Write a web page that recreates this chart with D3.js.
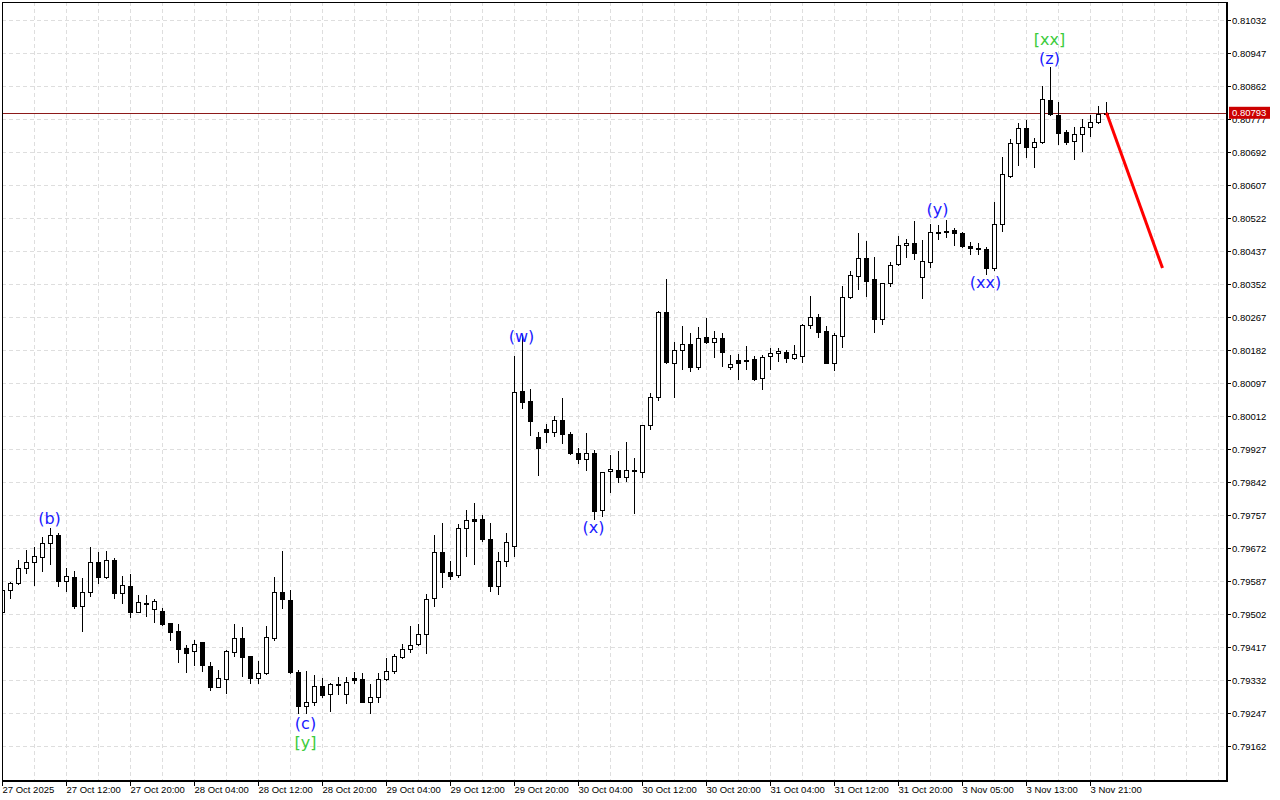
<!DOCTYPE html>
<html>
<head>
<meta charset="utf-8">
<script src="https://cdn.jsdelivr.net/npm/d3@7"></script>
<style>
  body { margin: 0; background: #fff; }
  svg text { font-family: "Liberation Sans", Arial, sans-serif; }
</style>
</head>
<body>
<script>
// hourly bars, two trading sessions (weekend gap between them)
var sessions = [
  { start: "2025-10-27T04:00:00Z", bars: 116 },
  { start: "2025-11-03T01:00:00Z", bars: 23 }
];

var opens = [
  0.79507, 0.79564, 0.79581, 0.79620, 0.79635, 0.79650, 0.79684, 0.79705, 0.79588, 0.79598,
  0.79523, 0.79558, 0.79635, 0.79597, 0.79641, 0.79555, 0.79574, 0.79508, 0.79531, 0.79514,
  0.79510, 0.79478, 0.79458, 0.79414, 0.79407, 0.79429, 0.79369, 0.79315, 0.79334, 0.79405,
  0.79439, 0.79394, 0.79336, 0.79349, 0.79439, 0.79558, 0.79538, 0.79352, 0.79266, 0.79276,
  0.79317, 0.79295, 0.79320, 0.79295, 0.79336, 0.79334, 0.79276, 0.79289, 0.79334, 0.79356,
  0.79392, 0.79412, 0.79424, 0.79450, 0.79542, 0.79662, 0.79611, 0.79602, 0.79723, 0.79746,
  0.79746, 0.79695, 0.79575, 0.79639, 0.79678, 0.80076, 0.80051, 0.79959, 0.79979, 0.79970,
  0.80002, 0.79966, 0.79917, 0.79900, 0.79917, 0.79770, 0.79870, 0.79873, 0.79856, 0.79873,
  0.79867, 0.79989, 0.80062, 0.80281, 0.80148, 0.80181, 0.80197, 0.80139, 0.80215, 0.80202,
  0.80212, 0.80139, 0.80156, 0.80156, 0.80158, 0.80109, 0.80167, 0.80174, 0.80178, 0.80161,
  0.80167, 0.80246, 0.80266, 0.80231, 0.80149, 0.80219, 0.80318, 0.80373, 0.80418, 0.80365,
  0.80261, 0.80354, 0.80403, 0.80452, 0.80457, 0.80369, 0.80408, 0.80487, 0.80489, 0.80491,
  0.80484, 0.80451, 0.80444, 0.80441, 0.80392, 0.80506, 0.80631, 0.80714, 0.80753, 0.80706,
  0.80719, 0.80826, 0.80787, 0.80743, 0.80720, 0.80738, 0.80756, 0.80768, 0.80789
];
var highs = [
  0.79572, 0.79585, 0.79641, 0.79667, 0.79675, 0.79700, 0.79723, 0.79710, 0.79620, 0.79613,
  0.79594, 0.79674, 0.79661, 0.79664, 0.79645, 0.79600, 0.79605, 0.79551, 0.79551, 0.79541,
  0.79518, 0.79479, 0.79475, 0.79422, 0.79435, 0.79431, 0.79378, 0.79358, 0.79408, 0.79476,
  0.79468, 0.79395, 0.79381, 0.79471, 0.79598, 0.79664, 0.79564, 0.79358, 0.79354, 0.79345,
  0.79336, 0.79325, 0.79340, 0.79339, 0.79352, 0.79349, 0.79321, 0.79349, 0.79388, 0.79399,
  0.79424, 0.79471, 0.79476, 0.79553, 0.79705, 0.79736, 0.79639, 0.79734, 0.79769, 0.79789,
  0.79757, 0.79737, 0.79661, 0.79710, 0.80167, 0.80221, 0.80082, 0.79970, 0.79991, 0.80012,
  0.80058, 0.79972, 0.79929, 0.79969, 0.79924, 0.79868, 0.79912, 0.79923, 0.79946, 0.79903,
  0.79990, 0.80072, 0.80283, 0.80365, 0.80203, 0.80244, 0.80227, 0.80242, 0.80264, 0.80231,
  0.80227, 0.80169, 0.80172, 0.80192, 0.80167, 0.80169, 0.80186, 0.80186, 0.80182, 0.80195,
  0.80249, 0.80321, 0.80275, 0.80244, 0.80225, 0.80347, 0.80386, 0.80484, 0.80463, 0.80422,
  0.80355, 0.80408, 0.80476, 0.80467, 0.80513, 0.80465, 0.80506, 0.80504, 0.80517, 0.80495,
  0.80487, 0.80461, 0.80457, 0.80448, 0.80562, 0.80680, 0.80726, 0.80766, 0.80774, 0.80727,
  0.80862, 0.80910, 0.80822, 0.80749, 0.80757, 0.80776, 0.80787, 0.80810, 0.80822
];
var lows = [
  0.79502, 0.79544, 0.79580, 0.79607, 0.79577, 0.79614, 0.79630, 0.79575, 0.79562, 0.79518,
  0.79459, 0.79549, 0.79581, 0.79595, 0.79542, 0.79530, 0.79495, 0.79507, 0.79498, 0.79482,
  0.79474, 0.79435, 0.79379, 0.79353, 0.79371, 0.79356, 0.79306, 0.79314, 0.79299, 0.79394,
  0.79342, 0.79325, 0.79325, 0.79348, 0.79435, 0.79518, 0.79351, 0.79246, 0.79246, 0.79268,
  0.79289, 0.79253, 0.79295, 0.79274, 0.79325, 0.79275, 0.79248, 0.79276, 0.79333, 0.79351,
  0.79389, 0.79403, 0.79423, 0.79401, 0.79523, 0.79572, 0.79592, 0.79598, 0.79652, 0.79630,
  0.79691, 0.79562, 0.79553, 0.79626, 0.79652, 0.80033, 0.79963, 0.79860, 0.79946, 0.79961,
  0.79942, 0.79913, 0.79890, 0.79873, 0.79747, 0.79755, 0.79817, 0.79841, 0.79845, 0.79763,
  0.79856, 0.79978, 0.80053, 0.80148, 0.80062, 0.80133, 0.80129, 0.80133, 0.80199, 0.80165,
  0.80142, 0.80133, 0.80107, 0.80133, 0.80106, 0.80081, 0.80133, 0.80154, 0.80152, 0.80160,
  0.80152, 0.80239, 0.80216, 0.80148, 0.80131, 0.80190, 0.80317, 0.80339, 0.80321, 0.80229,
  0.80248, 0.80348, 0.80402, 0.80422, 0.80416, 0.80315, 0.80395, 0.80468, 0.80474, 0.80452,
  0.80448, 0.80429, 0.80429, 0.80377, 0.80388, 0.80489, 0.80628, 0.80659, 0.80680, 0.80654,
  0.80714, 0.80788, 0.80712, 0.80712, 0.80673, 0.80695, 0.80733, 0.80767, 0.80788
];
var closes = [
  0.79564, 0.79581, 0.79620, 0.79635, 0.79652, 0.79684, 0.79705, 0.79588, 0.79601, 0.79523,
  0.79558, 0.79635, 0.79598, 0.79640, 0.79555, 0.79576, 0.79508, 0.79532, 0.79529, 0.79535,
  0.79477, 0.79456, 0.79411, 0.79402, 0.79426, 0.79371, 0.79315, 0.79336, 0.79407, 0.79439,
  0.79392, 0.79336, 0.79349, 0.79442, 0.79558, 0.79541, 0.79352, 0.79266, 0.79276, 0.79317,
  0.79293, 0.79321, 0.79322, 0.79326, 0.79332, 0.79276, 0.79289, 0.79334, 0.79356, 0.79394,
  0.79411, 0.79422, 0.79450, 0.79540, 0.79661, 0.79611, 0.79600, 0.79723, 0.79743, 0.79742,
  0.79695, 0.79575, 0.79639, 0.79687, 0.80073, 0.80049, 0.80000, 0.79930, 0.79972, 0.80002,
  0.79965, 0.79916, 0.79900, 0.79917, 0.79768, 0.79867, 0.79876, 0.79856, 0.79873, 0.79870,
  0.79989, 0.80062, 0.80279, 0.80152, 0.80181, 0.80197, 0.80139, 0.80214, 0.80202, 0.80212,
  0.80178, 0.80145, 0.80149, 0.80153, 0.80107, 0.80165, 0.80174, 0.80179, 0.80161, 0.80171,
  0.80246, 0.80266, 0.80229, 0.80149, 0.80221, 0.80318, 0.80375, 0.80418, 0.80360, 0.80261,
  0.80354, 0.80401, 0.80452, 0.80458, 0.80431, 0.80411, 0.80487, 0.80484, 0.80487, 0.80483,
  0.80451, 0.80444, 0.80441, 0.80392, 0.80506, 0.80635, 0.80714, 0.80753, 0.80706, 0.80717,
  0.80828, 0.80789, 0.80742, 0.80719, 0.80738, 0.80756, 0.80768, 0.80789, 0.80793
];

// price scale labels on the right
var priceTicks = [
  0.81032, 0.80947, 0.80862, 0.80777, 0.80692, 0.80607, 0.80522, 0.80437, 0.80352,
  0.80267, 0.80182, 0.80097, 0.80012, 0.79927, 0.79842, 0.79757, 0.79672, 0.79587,
  0.79502, 0.79417, 0.79332, 0.79247, 0.79162
];

// wave marks: bar index, price level, text, degree
var waveBars   = [6, 38, 38, 65, 74, 117, 123, 131, 131];
var wavePrices = [0.79747, 0.79221, 0.79170, 0.80216, 0.79726, 0.80545, 0.80355, 0.80932, 0.80983];
var waveTexts  = ["(b)", "(c)", "[y]", "(w)", "(x)", "(y)", "(xx)", "(z)", "[xx]"];
var waveDegree = ["minor", "minor", "major", "minor", "minor", "minor", "minor", "minor", "major"];

// forecast line (bar index, price)
var forecastBars   = [138, 145];
var forecastPrices = [0.80793, 0.80393];

var svg_width = 1280, svg_height = 800;
var plotL = 2, plotT = 2, plotR = 1226, plotB = 780;

var degreeColor = { minor: "#1a1aff", major: "#3ccc3c" };

// build bar times
var times = [];
sessions.forEach(function(s) {
  var t0 = new Date(s.start).getTime();
  for (var i = 0; i < s.bars; i++) times.push(new Date(t0 + i * 3600e3));
});

var bars = times.map(function(t, i) {
  return { i: i, t: t, o: opens[i], h: highs[i], l: lows[i], c: closes[i] };
});

var xScale = d3.scaleLinear().domain([0, 152]).range([2.5, 2.5 + 8 * 152]);
var yScale = d3.scaleLinear().domain([0.79162, 0.81032]).range([746, 20]);

var svg = d3.select("body").append("svg")
  .attr("width", svg_width)
  .attr("height", svg_height);

svg.append("rect").attr("width", svg_width).attr("height", svg_height).attr("fill", "#fff");

svg.append("clipPath").attr("id", "plotclip")
  .append("rect").attr("x", plotL).attr("y", plotT)
  .attr("width", plotR - plotL).attr("height", plotB - plotT);

var plot = svg.append("g").attr("clip-path", "url(#plotclip)");

// grid
var gridX = d3.range(0, 153, 4);
plot.selectAll(".gx").data(gridX).enter().append("line")
  .attr("x1", d => Math.round(xScale(d) - 0.5) + 0.5).attr("x2", d => Math.round(xScale(d) - 0.5) + 0.5)
  .attr("y1", plotT).attr("y2", plotB)
  .attr("stroke", "#dedede").attr("stroke-dasharray", "4,3");

plot.selectAll(".gy").data(priceTicks).enter().append("line")
  .attr("x1", plotL).attr("x2", plotR)
  .attr("y1", d => Math.round(yScale(d)) + 0.5).attr("y2", d => Math.round(yScale(d)) + 0.5)
  .attr("stroke", "#dedede").attr("stroke-dasharray", "4,3");

// current price line
var lastClose = closes[closes.length - 1];
plot.append("line")
  .attr("x1", plotL).attr("x2", plotR)
  .attr("y1", Math.round(yScale(lastClose)) + 0.5).attr("y2", Math.round(yScale(lastClose)) + 0.5)
  .attr("stroke", "#8c1a1a").attr("stroke-width", 1);

// candles
var cx = d => Math.round(xScale(d.i) - 0.5) + 0.5;
var py = v => Math.round(yScale(v));

var candle = plot.selectAll(".candle").data(bars).enter().append("g")
  .attr("shape-rendering", "crispEdges");

candle.append("line")
  .attr("x1", cx).attr("x2", cx)
  .attr("y1", d => py(d.h)).attr("y2", d => py(d.l) + 1)
  .attr("stroke", "#000");

candle.append("rect")
  .attr("x", d => cx(d) - 2)
  .attr("width", 4)
  .attr("y", d => py(Math.max(d.o, d.c)) + 0.5)
  .attr("height", d => Math.max(0, py(Math.min(d.o, d.c)) - py(Math.max(d.o, d.c))))
  .attr("fill", d => d.c >= d.o ? "#fff" : "#000")
  .attr("stroke", "#000");

// forecast
plot.append("line")
  .attr("x1", xScale(forecastBars[0])).attr("y1", yScale(forecastPrices[0]))
  .attr("x2", xScale(forecastBars[1])).attr("y2", yScale(forecastPrices[1]))
  .attr("stroke", "#ff0000").attr("stroke-width", 3);

// wave labels
svg.selectAll(".wave").data(waveTexts).enter().append("text")
  .attr("x", (d, i) => xScale(waveBars[i]) - 1)
  .attr("y", (d, i) => yScale(wavePrices[i]))
  .attr("dy", "0.35em")
  .attr("text-anchor", "middle")
  .style("font-family", "'DejaVu Sans', sans-serif")
  .style("font-size", "16px")
  .attr("fill", (d, i) => degreeColor[waveDegree[i]])
  .text(d => d);

// frame
svg.append("rect")
  .attr("x", plotL + 0.5).attr("y", plotT + 0.5)
  .attr("width", plotR - plotL).attr("height", plotB - plotT)
  .attr("fill", "none").attr("stroke", "#000");
svg.append("line").attr("x1", plotR + 1).attr("x2", plotR + 1).attr("y1", plotT).attr("y2", plotB + 2)
  .attr("stroke", "#000").attr("stroke-width", 2);
svg.append("line").attr("x1", plotL).attr("x2", plotR + 2).attr("y1", plotB + 1).attr("y2", plotB + 1)
  .attr("stroke", "#000").attr("stroke-width", 2);

// x axis
var fmtFirst = d3.utcFormat("%-d %b %Y");
var fmtTime = d3.utcFormat("%-d %b %H:%M");
var xaxis = d3.axisBottom(xScale)
  .tickValues(d3.range(0, times.length, 8))
  .tickSize(5)
  .tickFormat(d => d === 0 ? fmtFirst(times[d]) : fmtTime(times[d]));

var gx = svg.append("g")
  .attr("transform", "translate(0," + (plotB + 1) + ")")
  .call(xaxis);
gx.select(".domain").remove();
gx.selectAll(".tick").attr("transform", d => "translate(" + (Math.round(xScale(d) - 0.5) + 0.5) + ",0)");
gx.selectAll("text")
  .attr("text-anchor", "start").attr("x", 0).attr("y", 5)
  .style("font-size", "9.5px").attr("fill", "#000");

// y axis
var yaxis = d3.axisRight(yScale)
  .tickValues(priceTicks)
  .tickSize(3)
  .tickFormat(d3.format(".5f"));

var gy = svg.append("g")
  .attr("transform", "translate(" + (plotR + 2) + ",0)")
  .call(yaxis);
gy.select(".domain").remove();
gy.selectAll("text").attr("x", 4).style("font-size", "9.5px").attr("fill", "#000");

// current price tag
var tagY = yScale(lastClose);
svg.append("rect")
  .attr("x", plotR + 3).attr("y", tagY - 6)
  .attr("width", 41).attr("height", 12)
  .attr("fill", "#cc0000");
svg.append("text")
  .attr("x", plotR + 6).attr("y", tagY)
  .attr("dy", "0.35em")
  .style("font-size", "9.5px")
  .attr("fill", "#fff")
  .text(d3.format(".5f")(lastClose));
</script>
</body>
</html>
